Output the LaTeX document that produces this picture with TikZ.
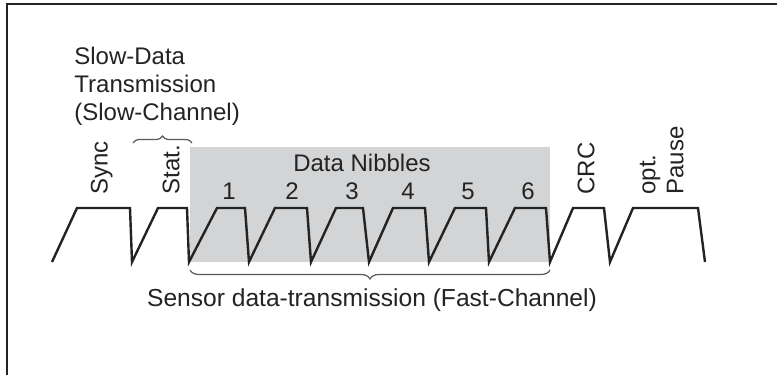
\documentclass[tikz,border=0pt]{standalone}
\usepackage{fontspec}
\setmainfont{Liberation Sans}
\usetikzlibrary{decorations.pathreplacing}

\definecolor{nibblegray}{RGB}{211,212,214}
\definecolor{inkgray}{RGB}{35,35,35}

\tikzset{
  signal/.style={line width=1.2pt, draw=inkgray, line join=miter},
  fieldlabel/.style={rotate=90, anchor=south west, inner sep=0pt, align=left},
  curly/.style={decorate, decoration={brace, amplitude=#1}, draw=inkgray!75, line width=.6pt},
}

\begin{document}
\begin{tikzpicture}[x=.5pt,y=.5pt,font=\fontsize{12}{14}\selectfont,text=inkgray]
\useasboundingbox (0,0) rectangle (777,375);

% frame (top and left only)
\draw[inkgray, line width=1pt] (777,371) -- (7,371) -- (7,0);

% fast channel area
\fill[nibblegray] (190,113) rectangle (550,228);

% pulse train
\draw[signal] (52,113)
  \foreach \a/\b/\c in {77/130/132, 158/187/189, 217/245/249, 275/307/311,
                        336/363/369, 393/425/429, 455/486/489, 515/546/550,
                        573/604/610, 633/698/705} {
    -- (\a,167) -- (\b,167) -- (\c,113)
  };

% field labels
\node[fieldlabel] (sync)  at (113,180) {Sync};
\node[fieldlabel] (stat)  at (180,180) {Stat.};
\node[fieldlabel] (crc)   at (595,180) {CRC};
\node[fieldlabel] (pause) at (684,180) {opt.\\Pause};

\foreach \n/\x in {1/229,2/292,3/352,4/408,5/468,6/528}
  \node (n\n) at (\x,184) {\n};
\node (nibbles) at (362,212) {Data Nibbles};

% braces
\coordinate (slowL) at (133,232);
\coordinate (slowR) at (192,232);
\coordinate (fastL) at (190,105);
\coordinate (fastR) at (550,105);
\draw[curly=3.5pt] (slowL) -- (slowR);
\draw[curly=4.5pt, decoration={mirror}] (fastL) -- (fastR);

\node[anchor=north west, inner sep=0pt, align=left] (slow) at (74,328)
  {Slow-Data\\Transmission\\(Slow-Channel)};
\node[anchor=base, font=\fontsize{12.3}{14}\selectfont] (fast) at (372,68)
  {Sensor data-transmission (Fast-Channel)};

\end{tikzpicture}
\end{document}
